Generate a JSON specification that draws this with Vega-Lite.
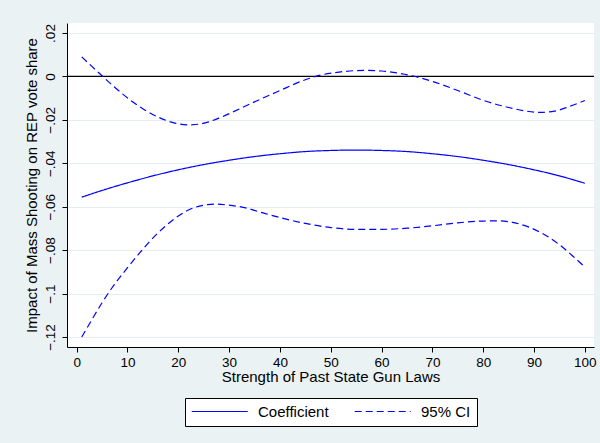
{
  "$schema": "https://vega.github.io/schema/vega-lite/v6.json",
  "width": 527,
  "height": 324,
  "autosize": {"type": "none"},
  "padding": {"left": 67, "top": 23, "right": 6, "bottom": 96},
  "background": "#EAF2F3",
  "config": {
    "view": {"fill": "white", "stroke": null},
    "font": "Liberation Sans",
    "axis": {
      "domainColor": "black",
      "tickColor": "black",
      "labelColor": "black",
      "titleColor": "black",
      "titleFontWeight": "normal",
      "labelFontSize": 13.5,
      "titleFontSize": 15,
      "tickSize": 5
    },
    "legend": {
      "labelFontSize": 15,
      "labelColor": "black"
    }
  },
  "datasets": {
    "curves": [
      {"x": 1, "y": -0.0556, "curve": "coef", "series": "Coefficient"},
      {"x": 5, "y": -0.0525, "curve": "coef", "series": "Coefficient"},
      {"x": 10, "y": -0.0490, "curve": "coef", "series": "Coefficient"},
      {"x": 15, "y": -0.0458, "curve": "coef", "series": "Coefficient"},
      {"x": 20, "y": -0.0430, "curve": "coef", "series": "Coefficient"},
      {"x": 25, "y": -0.0406, "curve": "coef", "series": "Coefficient"},
      {"x": 30, "y": -0.0386, "curve": "coef", "series": "Coefficient"},
      {"x": 35, "y": -0.0369, "curve": "coef", "series": "Coefficient"},
      {"x": 40, "y": -0.0356, "curve": "coef", "series": "Coefficient"},
      {"x": 45, "y": -0.0346, "curve": "coef", "series": "Coefficient"},
      {"x": 50, "y": -0.0341, "curve": "coef", "series": "Coefficient"},
      {"x": 55, "y": -0.0339, "curve": "coef", "series": "Coefficient"},
      {"x": 60, "y": -0.0341, "curve": "coef", "series": "Coefficient"},
      {"x": 65, "y": -0.0346, "curve": "coef", "series": "Coefficient"},
      {"x": 70, "y": -0.0356, "curve": "coef", "series": "Coefficient"},
      {"x": 75, "y": -0.0369, "curve": "coef", "series": "Coefficient"},
      {"x": 80, "y": -0.0386, "curve": "coef", "series": "Coefficient"},
      {"x": 85, "y": -0.0406, "curve": "coef", "series": "Coefficient"},
      {"x": 90, "y": -0.0430, "curve": "coef", "series": "Coefficient"},
      {"x": 95, "y": -0.0458, "curve": "coef", "series": "Coefficient"},
      {"x": 100, "y": -0.0492, "curve": "coef", "series": "Coefficient"},

      {"x": 1, "y": 0.0090, "curve": "upper", "series": "95% CI"},
      {"x": 3, "y": 0.0046, "curve": "upper", "series": "95% CI"},
      {"x": 5, "y": 0.0003, "curve": "upper", "series": "95% CI"},
      {"x": 7, "y": -0.0040, "curve": "upper", "series": "95% CI"},
      {"x": 9, "y": -0.0080, "curve": "upper", "series": "95% CI"},
      {"x": 11, "y": -0.0117, "curve": "upper", "series": "95% CI"},
      {"x": 13, "y": -0.0149, "curve": "upper", "series": "95% CI"},
      {"x": 16, "y": -0.0187, "curve": "upper", "series": "95% CI"},
      {"x": 19, "y": -0.0213, "curve": "upper", "series": "95% CI"},
      {"x": 22, "y": -0.0223, "curve": "upper", "series": "95% CI"},
      {"x": 24, "y": -0.0220, "curve": "upper", "series": "95% CI"},
      {"x": 26, "y": -0.0209, "curve": "upper", "series": "95% CI"},
      {"x": 28, "y": -0.0192, "curve": "upper", "series": "95% CI"},
      {"x": 31, "y": -0.0161, "curve": "upper", "series": "95% CI"},
      {"x": 34, "y": -0.0128, "curve": "upper", "series": "95% CI"},
      {"x": 37, "y": -0.0096, "curve": "upper", "series": "95% CI"},
      {"x": 40, "y": -0.0065, "curve": "upper", "series": "95% CI"},
      {"x": 44, "y": -0.0024, "curve": "upper", "series": "95% CI"},
      {"x": 48, "y": 0.0006, "curve": "upper", "series": "95% CI"},
      {"x": 52, "y": 0.0021, "curve": "upper", "series": "95% CI"},
      {"x": 57, "y": 0.0028, "curve": "upper", "series": "95% CI"},
      {"x": 60, "y": 0.0025, "curve": "upper", "series": "95% CI"},
      {"x": 63, "y": 0.0016, "curve": "upper", "series": "95% CI"},
      {"x": 66, "y": 0.0003, "curve": "upper", "series": "95% CI"},
      {"x": 70, "y": -0.0023, "curve": "upper", "series": "95% CI"},
      {"x": 75, "y": -0.0065, "curve": "upper", "series": "95% CI"},
      {"x": 80, "y": -0.0110, "curve": "upper", "series": "95% CI"},
      {"x": 85, "y": -0.0143, "curve": "upper", "series": "95% CI"},
      {"x": 88, "y": -0.0158, "curve": "upper", "series": "95% CI"},
      {"x": 91, "y": -0.0166, "curve": "upper", "series": "95% CI"},
      {"x": 94, "y": -0.0160, "curve": "upper", "series": "95% CI"},
      {"x": 97, "y": -0.0138, "curve": "upper", "series": "95% CI"},
      {"x": 100, "y": -0.0111, "curve": "upper", "series": "95% CI"},

      {"x": 1, "y": -0.1200, "curve": "lower", "series": "95% CI"},
      {"x": 3, "y": -0.1120, "curve": "lower", "series": "95% CI"},
      {"x": 5, "y": -0.1042, "curve": "lower", "series": "95% CI"},
      {"x": 7, "y": -0.0972, "curve": "lower", "series": "95% CI"},
      {"x": 10, "y": -0.0881, "curve": "lower", "series": "95% CI"},
      {"x": 13, "y": -0.0796, "curve": "lower", "series": "95% CI"},
      {"x": 16, "y": -0.0721, "curve": "lower", "series": "95% CI"},
      {"x": 19, "y": -0.0660, "curve": "lower", "series": "95% CI"},
      {"x": 22, "y": -0.0615, "curve": "lower", "series": "95% CI"},
      {"x": 25, "y": -0.0593, "curve": "lower", "series": "95% CI"},
      {"x": 27, "y": -0.0588, "curve": "lower", "series": "95% CI"},
      {"x": 30, "y": -0.0593, "curve": "lower", "series": "95% CI"},
      {"x": 33, "y": -0.0604, "curve": "lower", "series": "95% CI"},
      {"x": 36, "y": -0.0624, "curve": "lower", "series": "95% CI"},
      {"x": 40, "y": -0.0650, "curve": "lower", "series": "95% CI"},
      {"x": 45, "y": -0.0677, "curve": "lower", "series": "95% CI"},
      {"x": 50, "y": -0.0696, "curve": "lower", "series": "95% CI"},
      {"x": 55, "y": -0.0704, "curve": "lower", "series": "95% CI"},
      {"x": 60, "y": -0.0704, "curve": "lower", "series": "95% CI"},
      {"x": 65, "y": -0.0699, "curve": "lower", "series": "95% CI"},
      {"x": 70, "y": -0.0688, "curve": "lower", "series": "95% CI"},
      {"x": 75, "y": -0.0674, "curve": "lower", "series": "95% CI"},
      {"x": 80, "y": -0.0666, "curve": "lower", "series": "95% CI"},
      {"x": 83, "y": -0.0665, "curve": "lower", "series": "95% CI"},
      {"x": 86, "y": -0.0673, "curve": "lower", "series": "95% CI"},
      {"x": 89, "y": -0.0694, "curve": "lower", "series": "95% CI"},
      {"x": 92, "y": -0.0728, "curve": "lower", "series": "95% CI"},
      {"x": 95, "y": -0.0775, "curve": "lower", "series": "95% CI"},
      {"x": 98, "y": -0.0835, "curve": "lower", "series": "95% CI"},
      {"x": 100, "y": -0.0878, "curve": "lower", "series": "95% CI"}
    ],
    "zero": [{"y": 0}]
  },
  "layer": [
    {
      "data": {"name": "zero"},
      "mark": {"type": "rule", "color": "black", "strokeWidth": 1.2},
      "encoding": {
        "y": {"field": "y", "type": "quantitative"}
      }
    },
    {
      "data": {"name": "curves"},
      "mark": {"type": "line", "color": "#0000ff", "strokeWidth": 1.2, "interpolate": "monotone"},
      "encoding": {
        "x": {
          "field": "x",
          "type": "quantitative",
          "scale": {"domain": [-1.9, 101.8], "nice": false, "zero": false},
          "axis": {
            "values": [0, 10, 20, 30, 40, 50, 60, 70, 80, 90, 100],
            "title": "Strength of Past State Gun Laws",
            "grid": false,
            "labelPadding": 3,
            "titlePadding": 1,
            "labelFlush": false
          }
        },
        "y": {
          "field": "y",
          "type": "quantitative",
          "scale": {"domain": [-0.1246, 0.0246], "nice": false, "zero": false},
          "axis": {
            "values": [-0.12, -0.1, -0.08, -0.06, -0.04, -0.02, 0, 0.02],
            "title": "Impact of Mass Shooting on REP vote share",
            "titleAngle": -90,
            "titleLimit": 400,
            "titleBaseline": "bottom",
            "titleAlign": "center",
            "labelExpr": "datum.value == 0 ? '0' : replace(format(datum.value, '~g'), '0.', '.')",
            "labelAngle": -90,
            "labelAlign": "center",
            "labelBaseline": "bottom",
            "labelPadding": 5,
            "labelFlush": false,
            "titlePadding": 4,
            "grid": true,
            "gridColor": "#E4EDEF",
            "gridWidth": 1.2
          }
        },
        "detail": {"field": "curve"},
        "strokeDash": {
          "field": "series",
          "type": "nominal",
          "scale": {"domain": ["Coefficient", "95% CI"], "range": [[1, 0], [7, 4]]},
          "legend": {
            "title": null,
            "orient": "none",
            "legendX": 118,
            "legendY": 375,
            "direction": "horizontal",
            "gridAlign": "none",
            "symbolType": "M-1.94,0H14.06",
            "symbolSize": 49,
            "symbolStrokeColor": "#0000ff",
            "symbolStrokeWidth": 1.2,
            "strokeColor": "black",
            "fillColor": "white",
            "padding": 6,
            "labelOffset": 52,
            "columnPadding": 23,
            "encode": {
              "symbols": {"update": {"stroke": {"value": "#0000ff"}, "fill": {"value": "transparent"}}}
            }
          }
        }
      }
    }
  ]
}
